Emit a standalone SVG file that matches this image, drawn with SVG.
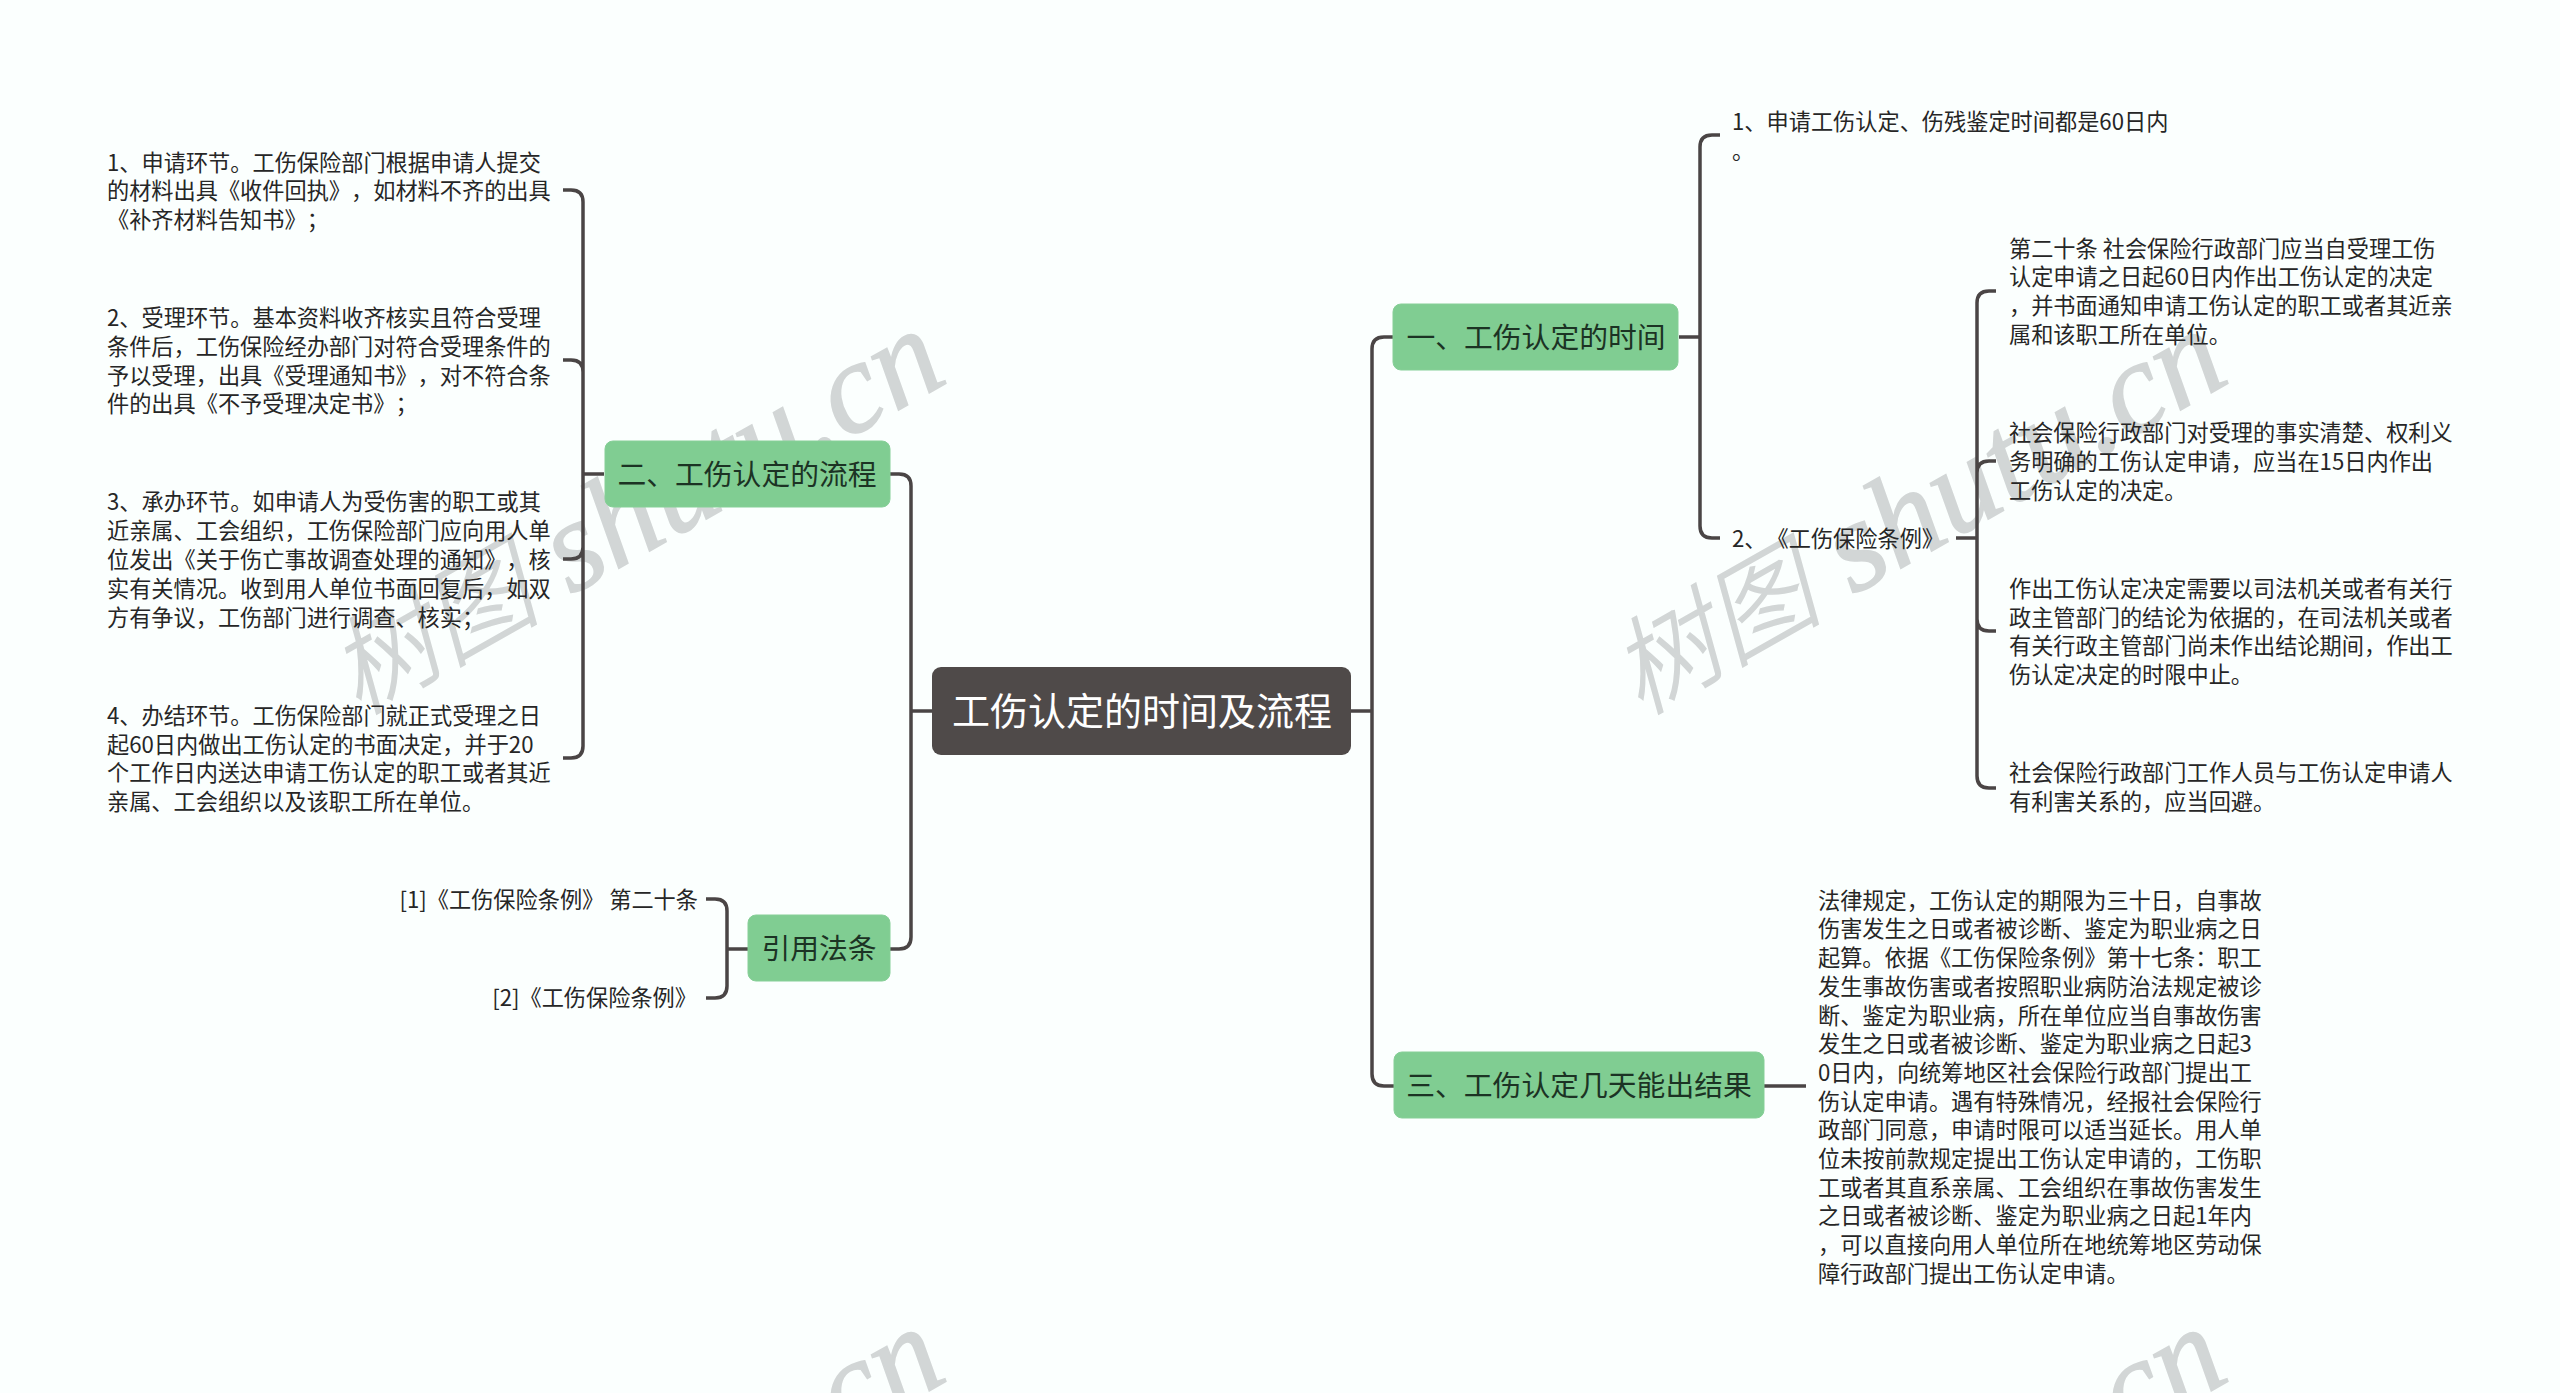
<svg xmlns="http://www.w3.org/2000/svg" width="2560" height="1393" viewBox="0 0 2560 1393">
<style>
text{font-family:"Noto Sans CJK SC","Liberation Sans",sans-serif;dominant-baseline:central;text-spacing-trim:space-all}
.t{font-size:22.2px;fill:#262626;font-weight:400}
.e{text-anchor:end}
.n{font-size:28.8px;fill:#1c3324;text-anchor:middle;font-weight:400}
.r{font-size:38px;fill:#fff;text-anchor:middle;font-weight:400}
.g{fill:#80cd92;stroke:#86cf97;stroke-width:1}
.w{font-family:"Liberation Serif","Noto Sans CJK SC",serif;font-style:italic;font-size:130px;fill:#d2d6d6;dominant-baseline:auto;stroke:#d2d6d6;stroke-width:1.5}
.wc{font-family:"Noto Sans CJK SC",sans-serif;font-size:106px;font-weight:300}
#connectors path{fill:none;stroke:#4a4545;stroke-width:3.5}
</style>
<rect width="2560" height="1393" fill="#fbfffe"/>
<g id="watermark">
<text class="w" transform="translate(358 716) rotate(-29.5)"><tspan class="wc">树图</tspan> shutu.cn</text>
<text class="w" transform="translate(1640 716) rotate(-29.5)"><tspan class="wc">树图</tspan> shutu.cn</text>
<text class="w" transform="translate(358 1714) rotate(-29.5)"><tspan class="wc">树图</tspan> shutu.cn</text>
<text class="w" transform="translate(1640 1714) rotate(-29.5)"><tspan class="wc">树图</tspan> shutu.cn</text>
</g>
<g id="connectors">
<path d="M932 711H911M890 474H899Q911 474 911 486V937Q911 949 899 949H890"/>
<path d="M1351 711H1372M1393 337H1384Q1372 337 1372 349V1074Q1372 1086 1384 1086H1394"/>
<path d="M604 474H583M563 190H571Q583 190 583 202V746Q583 758 571 758H563M563 360H571Q583 360 583 372M563 559H571Q583 559 583 547"/>
<path d="M748 949H727M706 899H715Q727 899 727 911V986Q727 998 715 998H706"/>
<path d="M1679 337H1700M1720 135H1712Q1700 135 1700 147V526Q1700 538 1712 538H1720"/>
<path d="M1956 538H1977M1996 291H1989Q1977 291 1977 303V776Q1977 788 1989 788H1996M1996 461H1989Q1977 461 1977 473M1996 631H1989Q1977 631 1977 619"/>
<path d="M1764 1086H1806"/>
</g>
<g id="root"><rect x="932" y="667" width="419" height="88" rx="9" fill="#4f4a49"/><text class="r" x="1142" y="708">工伤认定的时间及流程</text></g>
<g id="n1"><rect class="g" x="1393" y="304" width="285" height="66" rx="8"/><text class="n" x="1536" y="335">一、工伤认定的时间</text></g>
<g id="n2"><rect class="g" x="605" y="441" width="285" height="66" rx="8"/><text class="n" x="747" y="472">二、工伤认定的流程</text></g>
<g id="n3"><rect class="g" x="1394" y="1052" width="370" height="66" rx="8"/><text class="n" x="1579" y="1083">三、工伤认定几天能出结果</text></g>
<g id="n4"><rect class="g" x="748" y="915" width="142" height="66" rx="8"/><text class="n" x="819" y="946">引用法条</text></g>
<g id="l1"><text class="t" x="107" y="161">1、申请环节。工伤保险部门根据申请人提交</text><text class="t" x="107" y="189">的材料出具《收件回执》，如材料不齐的出具</text><text class="t" x="107" y="218">《补齐材料告知书》；</text></g>
<g id="l2"><text class="t" x="107" y="316">2、受理环节。基本资料收齐核实且符合受理</text><text class="t" x="107" y="345">条件后，工伤保险经办部门对符合受理条件的</text><text class="t" x="107" y="374">予以受理，出具《受理通知书》，对不符合条</text><text class="t" x="107" y="402">件的出具《不予受理决定书》；</text></g>
<g id="l3"><text class="t" x="107" y="500">3、承办环节。如申请人为受伤害的职工或其</text><text class="t" x="107" y="529">近亲属、工会组织，工伤保险部门应向用人单</text><text class="t" x="107" y="558">位发出《关于伤亡事故调查处理的通知》，核</text><text class="t" x="107" y="587">实有关情况。收到用人单位书面回复后，如双</text><text class="t" x="107" y="616">方有争议，工伤部门进行调查、核实；</text></g>
<g id="l4"><text class="t" x="107" y="714">4、办结环节。工伤保险部门就正式受理之日</text><text class="t" x="107" y="743">起60日内做出工伤认定的书面决定，并于20</text><text class="t" x="107" y="771">个工作日内送达申请工伤认定的职工或者其近</text><text class="t" x="107" y="800">亲属、工会组织以及该职工所在单位。</text></g>
<g id="c1"><text class="t e" x="698" y="898">[1]《工伤保险条例》 第二十条</text></g>
<g id="c2"><text class="t e" x="697" y="996">[2]《工伤保险条例》</text></g>
<g id="r1"><text class="t" x="1732" y="120">1、申请工伤认定、伤残鉴定时间都是60日内</text><text class="t" x="1732" y="149">。</text></g>
<g id="r2"><text class="t" x="1732" y="537">2、《工伤保险条例》</text></g>
<g id="r21"><text class="t" x="2009" y="247">第二十条 社会保险行政部门应当自受理工伤</text><text class="t" x="2009" y="275">认定申请之日起60日内作出工伤认定的决定</text><text class="t" x="2009" y="304">，并书面通知申请工伤认定的职工或者其近亲</text><text class="t" x="2009" y="333">属和该职工所在单位。</text></g>
<g id="r22"><text class="t" x="2009" y="431">社会保险行政部门对受理的事实清楚、权利义</text><text class="t" x="2009" y="460">务明确的工伤认定申请，应当在15日内作出</text><text class="t" x="2009" y="489">工伤认定的决定。</text></g>
<g id="r23"><text class="t" x="2009" y="587">作出工伤认定决定需要以司法机关或者有关行</text><text class="t" x="2009" y="616">政主管部门的结论为依据的，在司法机关或者</text><text class="t" x="2009" y="644">有关行政主管部门尚未作出结论期间，作出工</text><text class="t" x="2009" y="673">伤认定决定的时限中止。</text></g>
<g id="r24"><text class="t" x="2009" y="771">社会保险行政部门工作人员与工伤认定申请人</text><text class="t" x="2009" y="800">有利害关系的，应当回避。</text></g>
<g id="r3"><text class="t" x="1818" y="899">法律规定，工伤认定的期限为三十日，自事故</text><text class="t" x="1818" y="927">伤害发生之日或者被诊断、鉴定为职业病之日</text><text class="t" x="1818" y="956">起算。依据《工伤保险条例》第十七条：职工</text><text class="t" x="1818" y="985">发生事故伤害或者按照职业病防治法规定被诊</text><text class="t" x="1818" y="1014">断、鉴定为职业病，所在单位应当自事故伤害</text><text class="t" x="1818" y="1042">发生之日或者被诊断、鉴定为职业病之日起3</text><text class="t" x="1818" y="1071">0日内，向统筹地区社会保险行政部门提出工</text><text class="t" x="1818" y="1100">伤认定申请。遇有特殊情况，经报社会保险行</text><text class="t" x="1818" y="1128">政部门同意，申请时限可以适当延长。用人单</text><text class="t" x="1818" y="1157">位未按前款规定提出工伤认定申请的，工伤职</text><text class="t" x="1818" y="1186">工或者其直系亲属、工会组织在事故伤害发生</text><text class="t" x="1818" y="1214">之日或者被诊断、鉴定为职业病之日起1年内</text><text class="t" x="1818" y="1243">，可以直接向用人单位所在地统筹地区劳动保</text><text class="t" x="1818" y="1272">障行政部门提出工伤认定申请。</text></g>
</svg>
